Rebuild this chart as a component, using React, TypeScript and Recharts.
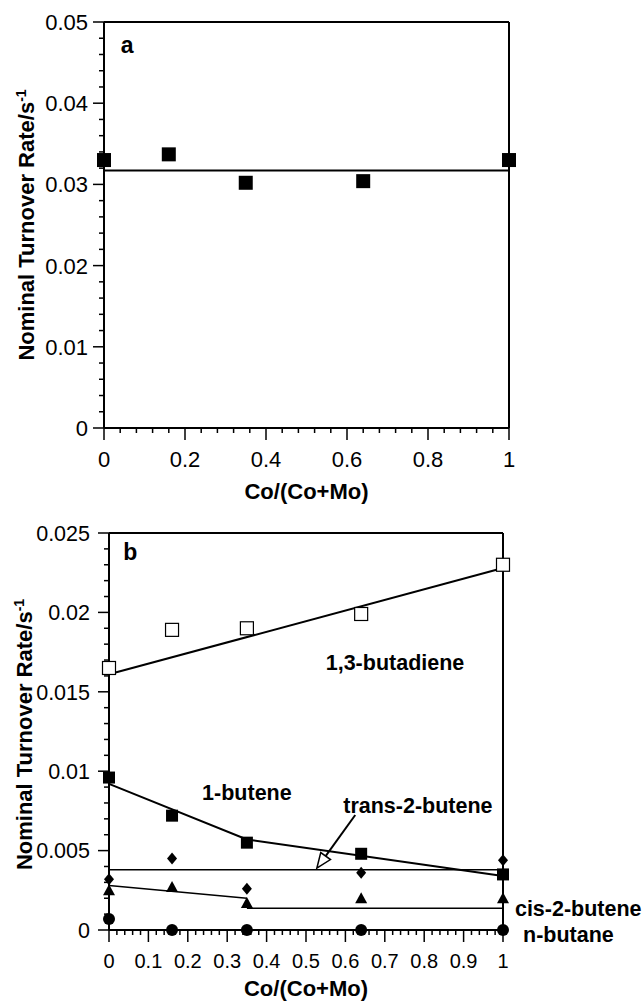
import {
    ComposedChart,
    Label,
    Line,
    ReferenceDot,
    ReferenceLine,
    Scatter,
    XAxis,
    YAxis,
} from 'recharts';

const FONT = '"Liberation Sans", Arial, Helvetica, sans-serif';

// Co/(Co+Mo) ratios of the catalysts
const COMPOSITION = [0, 0.16, 0.35, 0.64, 1];

// panel a: overall turnover rate
const RATE_A = [0.033, 0.0337, 0.0302, 0.0304, 0.033];
const FIT_A_X = [0, 1];
const FIT_A_Y = [0.0317, 0.0317];

// panel b: product turnover rates
const BUTADIENE = [0.0165, 0.0189, 0.019, 0.0199, 0.023];
const BUTADIENE_FIT_X = [0, 1];
const BUTADIENE_FIT_Y = [0.0161, 0.0228];

const BUTENE1 = [0.0096, 0.0072, 0.0055, 0.0048, 0.0035];
const BUTENE1_FIT_X = [0, 0.35, 1];
const BUTENE1_FIT_Y = [0.0092, 0.0057, 0.0034];

const TRANS2 = [0.0032, 0.0045, 0.0026, 0.0036, 0.0044];
const TRANS2_FIT_X = [0, 1];
const TRANS2_FIT_Y = [0.0038, 0.0038];

const CIS2 = [0.0025, 0.0027, 0.0017, 0.002, 0.002];
const CIS2_FIT1_X = [0, 0.35];
const CIS2_FIT1_Y = [0.0028, 0.002];
const CIS2_FIT2_X = [0.35, 1];
const CIS2_FIT2_Y = [0.00137, 0.00137];

const NBUTANE = [0.0007, 0, 0, 0, 0];
const NBUTANE_FIT_X = [0, 1];
const NBUTANE_FIT_Y = [0, 0];

// axis ticks
const A_Y_MAJOR = [0, 0.01, 0.02, 0.03, 0.04, 0.05];
const A_Y_MINOR_STEP = 0.002;
const A_X_MAJOR = [0, 0.2, 0.4, 0.6, 0.8, 1];
const A_X_MINOR_STEP = 0.04;

const B_Y_MAJOR = [0, 0.005, 0.01, 0.015, 0.02, 0.025];
const B_Y_MINOR_STEP = 0.001;
const B_X_MAJOR = [0, 0.1, 0.2, 0.3, 0.4, 0.5, 0.6, 0.7, 0.8, 0.9, 1];
const B_X_MINOR_STEP = 0.02;

const toPoints = (xs: number[], ys: number[]) =>
    xs.map((x, i) => ({ x, y: ys[i] }));

const round = (v: number) => Math.round(v * 1e6) / 1e6;

const minorTicks = (max: number, step: number) => {
    const out: number[] = [];
    for (let v = 0; v <= max + step / 2; v += step) out.push(round(v));
    return out;
};

const isMajor = (v: number, majors: number[]) =>
    majors.some((m) => Math.abs(m - v) < 1e-7);

function LeftTick(props: any) {
    const { x, y, payload, majors, gap, size } = props;
    const major = isMajor(payload.value, majors);
    return (
        <g>
            <line
                x1={x - (major ? 11 : 5)}
                x2={x}
                y1={y}
                y2={y}
                stroke="#000"
                strokeWidth={1.5}
            />
            {major && (
                <text
                    x={x - gap}
                    y={y}
                    dy="0.36em"
                    textAnchor="end"
                    fontFamily={FONT}
                    fontSize={size}
                    fill="#000"
                >
                    {String(round(payload.value))}
                </text>
            )}
        </g>
    );
}

function BottomTick(props: any) {
    const { x, y, payload, majors, size } = props;
    const major = isMajor(payload.value, majors);
    return (
        <g>
            <line
                x1={x}
                x2={x}
                y1={y}
                y2={y + (major ? 12 : 5)}
                stroke="#000"
                strokeWidth={1.5}
            />
            {major && (
                <text
                    x={x}
                    y={y + 31}
                    dy="0.36em"
                    textAnchor="middle"
                    fontFamily={FONT}
                    fontSize={size}
                    fill="#000"
                >
                    {String(round(payload.value))}
                </text>
            )}
        </g>
    );
}

function YTitle({ viewBox, baseX, shift }: any) {
    const cy = viewBox.y + viewBox.height / 2 + shift;
    return (
        <text
            transform={`translate(${viewBox.x + baseX},${cy}) rotate(-90)`}
            textAnchor="middle"
            fontFamily={FONT}
            fontSize={22}
            fontWeight="bold"
            fill="#000"
        >
            <tspan>Nominal Turnover Rate/s</tspan>
            <tspan dy="-0.55em" fontSize={14}>
                -1
            </tspan>
        </text>
    );
}

function XTitle({ viewBox, offset }: any) {
    return (
        <text
            x={viewBox.x + viewBox.width / 2}
            y={viewBox.y + offset}
            dy="0.36em"
            textAnchor="middle"
            fontFamily={FONT}
            fontSize={22}
            fontWeight="bold"
            fill="#000"
        >
            Co/(Co+Mo)
        </text>
    );
}

const textLabel = (value: string, size = 21.5) => ({
    value,
    position: 'center' as const,
    fontFamily: FONT,
    fontSize: size,
    fontWeight: 'bold',
    fill: '#000',
});

const square = (size: number, filled: boolean) => (p: any) => (
    <rect
        x={p.cx - size / 2}
        y={p.cy - size / 2}
        width={size}
        height={size}
        fill={filled ? '#000' : '#fff'}
        stroke="#000"
        strokeWidth={filled ? 0 : 1.2}
    />
);

const diamond = (p: any) => (
    <polygon
        points={`${p.cx},${p.cy - 6} ${p.cx + 5},${p.cy} ${p.cx},${p.cy + 6} ${p.cx - 5},${p.cy}`}
        fill="#000"
    />
);

const triangle = (p: any) => (
    <polygon
        points={`${p.cx},${p.cy - 6} ${p.cx + 6},${p.cy + 5} ${p.cx - 6},${p.cy + 5}`}
        fill="#000"
    />
);

const circle = (p: any) => <circle cx={p.cx} cy={p.cy} r={6} fill="#000" />;

// open-headed arrow drawn along a ReferenceLine segment
function Arrow(p: any) {
    const { x1, y1, x2, y2 } = p;
    const dx = x2 - x1;
    const dy = y2 - y1;
    const len = Math.hypot(dx, dy) || 1;
    const ux = dx / len;
    const uy = dy / len;
    const head = 15;
    const half = 6;
    const bx = x2 - ux * head;
    const by = y2 - uy * head;
    return (
        <g>
            <line x1={x1} y1={y1} x2={bx} y2={by} stroke="#000" strokeWidth={2} />
            <polygon
                points={`${x2},${y2} ${bx - uy * half},${by + ux * half} ${bx + uy * half},${by - ux * half}`}
                fill="#fff"
                stroke="#000"
                strokeWidth={1.5}
            />
        </g>
    );
}

function PanelA() {
    return (
        <ComposedChart
            width={644}
            height={512}
            margin={{ top: 22, right: 135, left: 0, bottom: 0 }}
        >
            <XAxis
                type="number"
                dataKey="x"
                domain={[0, 1]}
                ticks={minorTicks(1, A_X_MINOR_STEP)}
                interval={0}
                height={84}
                tickSize={0}
                tickMargin={0}
                tickLine={false}
                axisLine={{ stroke: '#000', strokeWidth: 2 }}
                tick={(p: any) => <BottomTick {...p} majors={A_X_MAJOR} size={22} />}
                label={<Label content={(p: any) => <XTitle viewBox={p.viewBox} offset={63} />} />}
            />
            <YAxis
                type="number"
                dataKey="y"
                domain={[0, 0.05]}
                ticks={minorTicks(0.05, A_Y_MINOR_STEP)}
                interval={0}
                width={104}
                tickSize={0}
                tickMargin={0}
                tickLine={false}
                axisLine={{ stroke: '#000', strokeWidth: 2 }}
                tick={(p: any) => <LeftTick {...p} majors={A_Y_MAJOR} gap={16} size={22} />}
                label={<Label content={(p: any) => <YTitle viewBox={p.viewBox} baseX={34} shift={0} />} />}
            />
            <ReferenceLine y={0.05} stroke="#000" strokeWidth={2} />
            <ReferenceLine x={1} stroke="#000" strokeWidth={2} />
            <Line
                data={toPoints(FIT_A_X, FIT_A_Y)}
                dataKey="y"
                stroke="#000"
                strokeWidth={2}
                dot={false}
                activeDot={false}
                isAnimationActive={false}
            />
            <Scatter
                data={toPoints(COMPOSITION, RATE_A)}
                shape={square(14, true)}
                isAnimationActive={false}
            />
            <ReferenceDot
                x={0.057}
                y={0.0472}
                r={0}
                stroke="none"
                ifOverflow="visible"
                label={textLabel('a', 23)}
            />
        </ComposedChart>
    );
}

function PanelB() {
    const fit = (xs: number[], ys: number[], w = 2) => (
        <Line
            data={toPoints(xs, ys)}
            dataKey="y"
            stroke="#000"
            strokeWidth={w}
            dot={false}
            activeDot={false}
            isAnimationActive={false}
        />
    );
    return (
        <ComposedChart
            width={644}
            height={501}
            margin={{ top: 33, right: 141, left: 0, bottom: 0 }}
        >
            <XAxis
                type="number"
                dataKey="x"
                domain={[0, 1]}
                ticks={minorTicks(1, B_X_MINOR_STEP)}
                interval={0}
                height={71}
                tickSize={0}
                tickMargin={0}
                tickLine={false}
                axisLine={{ stroke: '#000', strokeWidth: 2 }}
                tick={(p: any) => <BottomTick {...p} majors={B_X_MAJOR} size={20} />}
                label={<Label content={(p: any) => <XTitle viewBox={p.viewBox} offset={58} />} />}
            />
            <YAxis
                type="number"
                dataKey="y"
                domain={[0, 0.025]}
                ticks={minorTicks(0.025, B_Y_MINOR_STEP)}
                interval={0}
                width={109}
                tickSize={0}
                tickMargin={0}
                tickLine={false}
                axisLine={{ stroke: '#000', strokeWidth: 2 }}
                tick={(p: any) => <LeftTick {...p} majors={B_Y_MAJOR} gap={19} size={21.5} />}
                label={<Label content={(p: any) => <YTitle viewBox={p.viewBox} baseX={32} shift={3} />} />}
            />
            <ReferenceLine y={0.025} stroke="#000" strokeWidth={2} />
            <ReferenceLine x={1} stroke="#000" strokeWidth={2} />
            {fit(BUTADIENE_FIT_X, BUTADIENE_FIT_Y)}
            {fit(BUTENE1_FIT_X, BUTENE1_FIT_Y)}
            {fit(TRANS2_FIT_X, TRANS2_FIT_Y, 1.5)}
            {fit(CIS2_FIT1_X, CIS2_FIT1_Y, 1.5)}
            {fit(CIS2_FIT2_X, CIS2_FIT2_Y, 1.5)}
            {fit(NBUTANE_FIT_X, NBUTANE_FIT_Y)}
            <ReferenceLine
                segment={[
                    { x: 0.625, y: 0.00724 },
                    { x: 0.5275, y: 0.00389 },
                ]}
                ifOverflow="visible"
                shape={(p: any) => <Arrow {...p} />}
            />
            <Scatter data={toPoints(COMPOSITION, BUTADIENE)} shape={square(13, false)} isAnimationActive={false} />
            <Scatter data={toPoints(COMPOSITION, BUTENE1)} shape={square(12, true)} isAnimationActive={false} />
            <Scatter data={toPoints(COMPOSITION, TRANS2)} shape={diamond} isAnimationActive={false} />
            <Scatter data={toPoints(COMPOSITION, CIS2)} shape={triangle} isAnimationActive={false} />
            <Scatter data={toPoints(COMPOSITION, NBUTANE)} shape={circle} isAnimationActive={false} />
            <ReferenceDot x={0.054} y={0.0238} r={0} stroke="none" ifOverflow="visible" label={textLabel('b', 23)} />
            <ReferenceDot x={0.726} y={0.01688} r={0} stroke="none" ifOverflow="visible" label={textLabel('1,3-butadiene')} />
            <ReferenceDot x={0.35} y={0.00869} r={0} stroke="none" ifOverflow="visible" label={textLabel('1-butene')} />
            <ReferenceDot x={0.784} y={0.00787} r={0} stroke="none" ifOverflow="visible" label={textLabel('trans-2-butene')} />
            <ReferenceDot x={1.191} y={0.00139} r={0} stroke="none" ifOverflow="visible" label={textLabel('cis-2-butene')} />
            <ReferenceDot x={1.166} y={-0.0003} r={0} stroke="none" ifOverflow="visible" label={textLabel('n-butane')} />
        </ComposedChart>
    );
}

export default function App() {
    return (
        <div style={{ position: 'relative', width: 644, height: 1001, background: '#fff' }}>
            <style>{'body{margin:0;}'}</style>
            <div style={{ position: 'absolute', left: 0, top: 0 }}>
                <PanelA />
            </div>
            <div style={{ position: 'absolute', left: 0, top: 500 }}>
                <PanelB />
            </div>
        </div>
    );
}
